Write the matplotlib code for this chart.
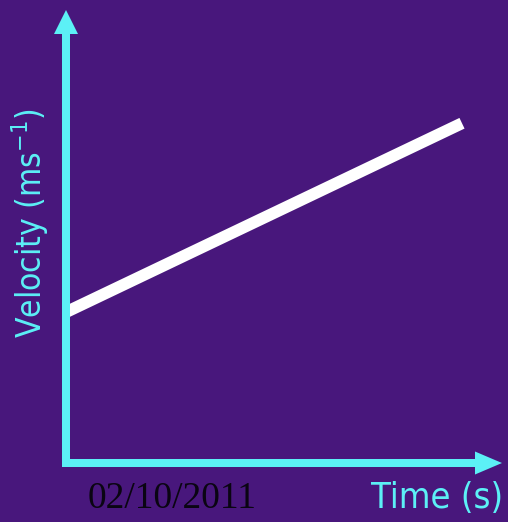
import matplotlib
matplotlib.use("Agg")
import matplotlib.pyplot as plt
from matplotlib.patches import FancyArrow

# Data
time = [0, 10]
velocity = [3.33, 7.5]
x_label = "Time (s)"
y_label = "Velocity (ms$^{-1}$)"
date_text = "02/10/2011"

BG = "#48177c"
CYAN = "#5cf0f6"

W, H = 508, 522
plt.rcParams['mathtext.default'] = 'regular'
plt.rcParams['mathtext.fontset'] = 'custom'
fig = plt.figure(figsize=(W / 100, H / 100), dpi=100)
fig.patch.set_facecolor(BG)

# overlay axes in pixel coords for decorations
ov = fig.add_axes([0, 0, 1, 1])
ov.set_xlim(0, W)
ov.set_ylim(H, 0)
ov.axis("off")
ov.set_facecolor("none")

# data axes: origin at pixel (66, 463)
x0, y0 = 66, 463
xr, yt = 500, 10
data_ax = fig.add_axes([x0 / W, (H - y0) / H, (xr - x0) / W, (y0 - yt) / H])
data_ax.set_facecolor("none")
data_ax.axis("off")
data_ax.set_xlim(0, 10 * (xr - x0) / (462 - x0))
data_ax.set_ylim(0, 10)
data_ax.plot(time, velocity, color="white", lw=8.5, solid_capstyle="butt", clip_on=False, zorder=1)

# axis arrows
ov.add_patch(FancyArrow(66, 467, 0, -457, width=8, head_width=24, head_length=24,
                        length_includes_head=True, color=CYAN, lw=0, zorder=5))
ov.add_patch(FancyArrow(62, 463, 440, 0, width=8, head_width=23, head_length=27,
                        length_includes_head=True, color=CYAN, lw=0, zorder=5))
ov.set_zorder(5)

font = dict(family="DejaVu Sans", fontstretch="condensed")
fig.text(30 / W, 1 - 223 / H, y_label, rotation=90, color=CYAN, fontsize=24,
         ha="center", va="center", **font)
fig.text(437 / W, 1 - 498 / H, x_label, color=CYAN, fontsize=26,
         ha="center", va="center", **font)
fig.text(172 / W, 1 - 499 / H, date_text, color="#0a0512", fontsize=27,
         family="Liberation Serif", ha="center", va="center")

fig.savefig("out.png", dpi=100, facecolor=BG)
